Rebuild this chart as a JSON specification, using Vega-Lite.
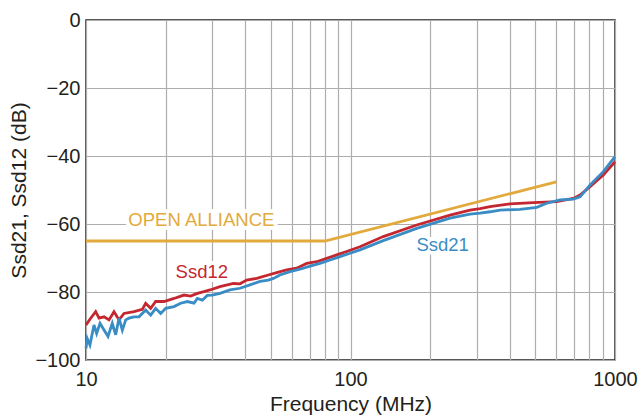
{
  "$schema": "https://vega.github.io/schema/vega-lite/v6.json",
  "width": 529,
  "height": 340,
  "autosize": {"type": "none"},
  "padding": {"left": 86, "top": 20, "right": 27, "bottom": 59},
  "background": "white",
  "config": {
    "view": {"stroke": "#231f20", "strokeWidth": 1.5},
    "font": "Liberation Sans",
    "axis": {
      "domain": false,
      "ticks": false,
      "grid": true,
      "gridColor": "#adadad",
      "gridWidth": 1.2,
      "labelFont": "Liberation Sans",
      "labelFontSize": 20,
      "labelColor": "#231f20",
      "titleFont": "Liberation Sans",
      "titleFontSize": 21,
      "titleFontWeight": "normal",
      "titleColor": "#231f20"
    }
  },
  "datasets": {
    "curves": [
      {"series": "OPEN ALLIANCE", "freq": 10, "db": -65},
      {"series": "OPEN ALLIANCE", "freq": 80, "db": -65},
      {"series": "OPEN ALLIANCE", "freq": 600, "db": -47.6},

      {"series": "Ssd12", "freq": 10, "db": -89.7},
      {"series": "Ssd12", "freq": 10.35, "db": -88.0},
      {"series": "Ssd12", "freq": 10.88, "db": -85.8},
      {"series": "Ssd12", "freq": 11.2, "db": -87.7},
      {"series": "Ssd12", "freq": 11.7, "db": -87.3},
      {"series": "Ssd12", "freq": 12.22, "db": -88.2},
      {"series": "Ssd12", "freq": 12.76, "db": -85.8},
      {"series": "Ssd12", "freq": 13.33, "db": -88.2},
      {"series": "Ssd12", "freq": 13.92, "db": -86.3},
      {"series": "Ssd12", "freq": 15.19, "db": -85.8},
      {"series": "Ssd12", "freq": 16.33, "db": -85.1},
      {"series": "Ssd12", "freq": 16.81, "db": -83.3},
      {"series": "Ssd12", "freq": 17.56, "db": -84.8},
      {"series": "Ssd12", "freq": 18.34, "db": -82.8},
      {"series": "Ssd12", "freq": 19.72, "db": -82.8},
      {"series": "Ssd12", "freq": 21.51, "db": -81.9},
      {"series": "Ssd12", "freq": 23.47, "db": -80.9},
      {"series": "Ssd12", "freq": 24.87, "db": -81.2},
      {"series": "Ssd12", "freq": 26.36, "db": -80.4},
      {"series": "Ssd12", "freq": 27.93, "db": -79.9},
      {"series": "Ssd12", "freq": 29.4, "db": -79.4},
      {"series": "Ssd12", "freq": 32.1, "db": -78.4},
      {"series": "Ssd12", "freq": 36.1, "db": -77.5},
      {"series": "Ssd12", "freq": 38.2, "db": -77.6},
      {"series": "Ssd12", "freq": 40.5, "db": -76.5},
      {"series": "Ssd12", "freq": 44.2, "db": -76.0},
      {"series": "Ssd12", "freq": 48.9, "db": -75.0},
      {"series": "Ssd12", "freq": 52.6, "db": -74.3},
      {"series": "Ssd12", "freq": 57.4, "db": -73.5},
      {"series": "Ssd12", "freq": 62.6, "db": -73.0},
      {"series": "Ssd12", "freq": 68.3, "db": -71.6},
      {"series": "Ssd12", "freq": 74.5, "db": -71.1},
      {"series": "Ssd12", "freq": 81.3, "db": -70.1},
      {"series": "Ssd12", "freq": 88.7, "db": -69.1},
      {"series": "Ssd12", "freq": 96.7, "db": -68.1},
      {"series": "Ssd12", "freq": 108.6, "db": -66.7},
      {"series": "Ssd12", "freq": 133, "db": -63.7},
      {"series": "Ssd12", "freq": 178, "db": -60.3},
      {"series": "Ssd12", "freq": 238, "db": -57.4},
      {"series": "Ssd12", "freq": 283, "db": -55.9},
      {"series": "Ssd12", "freq": 309, "db": -55.5},
      {"series": "Ssd12", "freq": 337, "db": -54.9},
      {"series": "Ssd12", "freq": 401, "db": -54.1},
      {"series": "Ssd12", "freq": 491, "db": -53.7},
      {"series": "Ssd12", "freq": 602, "db": -53.4},
      {"series": "Ssd12", "freq": 695, "db": -52.5},
      {"series": "Ssd12", "freq": 738, "db": -51.5},
      {"series": "Ssd12", "freq": 805, "db": -49.0},
      {"series": "Ssd12", "freq": 903, "db": -45.6},
      {"series": "Ssd12", "freq": 1000, "db": -41.7},

      {"series": "Ssd21", "freq": 10, "db": -96.6},
      {"series": "Ssd21", "freq": 10.11, "db": -93.7},
      {"series": "Ssd21", "freq": 10.35, "db": -95.6},
      {"series": "Ssd21", "freq": 10.72, "db": -89.7},
      {"series": "Ssd21", "freq": 10.97, "db": -92.2},
      {"series": "Ssd21", "freq": 11.3, "db": -89.2},
      {"series": "Ssd21", "freq": 11.7, "db": -91.2},
      {"series": "Ssd21", "freq": 12.11, "db": -93.1},
      {"series": "Ssd21", "freq": 12.57, "db": -89.2},
      {"series": "Ssd21", "freq": 12.95, "db": -92.6},
      {"series": "Ssd21", "freq": 13.33, "db": -87.7},
      {"series": "Ssd21", "freq": 13.72, "db": -91.2},
      {"series": "Ssd21", "freq": 14.13, "db": -88.2},
      {"series": "Ssd21", "freq": 14.54, "db": -87.7},
      {"series": "Ssd21", "freq": 15.19, "db": -87.3},
      {"series": "Ssd21", "freq": 15.86, "db": -87.3},
      {"series": "Ssd21", "freq": 16.81, "db": -85.3},
      {"series": "Ssd21", "freq": 17.56, "db": -86.8},
      {"series": "Ssd21", "freq": 18.34, "db": -84.8},
      {"series": "Ssd21", "freq": 19.16, "db": -86.3},
      {"series": "Ssd21", "freq": 20.01, "db": -84.8},
      {"series": "Ssd21", "freq": 21.51, "db": -84.3},
      {"series": "Ssd21", "freq": 22.8, "db": -83.3},
      {"series": "Ssd21", "freq": 24.16, "db": -82.8},
      {"series": "Ssd21", "freq": 25.6, "db": -83.3},
      {"series": "Ssd21", "freq": 26.36, "db": -81.9},
      {"series": "Ssd21", "freq": 27.53, "db": -82.4},
      {"series": "Ssd21", "freq": 28.75, "db": -81.0},
      {"series": "Ssd21", "freq": 30.03, "db": -80.9},
      {"series": "Ssd21", "freq": 32.1, "db": -80.4},
      {"series": "Ssd21", "freq": 35.0, "db": -79.4},
      {"series": "Ssd21", "freq": 38.2, "db": -78.9},
      {"series": "Ssd21", "freq": 41.7, "db": -77.9},
      {"series": "Ssd21", "freq": 45.5, "db": -76.9},
      {"series": "Ssd21", "freq": 48.9, "db": -76.5},
      {"series": "Ssd21", "freq": 51.1, "db": -76.0},
      {"series": "Ssd21", "freq": 54.1, "db": -75.0},
      {"series": "Ssd21", "freq": 59.1, "db": -74.0},
      {"series": "Ssd21", "freq": 64.4, "db": -73.3},
      {"series": "Ssd21", "freq": 70.3, "db": -72.4},
      {"series": "Ssd21", "freq": 76.7, "db": -71.6},
      {"series": "Ssd21", "freq": 83.7, "db": -70.6},
      {"series": "Ssd21", "freq": 91.3, "db": -69.6},
      {"series": "Ssd21", "freq": 99.6, "db": -68.6},
      {"series": "Ssd21", "freq": 108.6, "db": -67.6},
      {"series": "Ssd21", "freq": 133, "db": -64.9},
      {"series": "Ssd21", "freq": 178, "db": -61.3},
      {"series": "Ssd21", "freq": 238, "db": -58.3},
      {"series": "Ssd21", "freq": 283, "db": -57.1},
      {"series": "Ssd21", "freq": 309, "db": -56.8},
      {"series": "Ssd21", "freq": 337, "db": -56.4},
      {"series": "Ssd21", "freq": 367.5, "db": -55.9},
      {"series": "Ssd21", "freq": 437, "db": -55.7},
      {"series": "Ssd21", "freq": 506, "db": -55.1},
      {"series": "Ssd21", "freq": 552, "db": -53.9},
      {"series": "Ssd21", "freq": 620, "db": -52.9},
      {"series": "Ssd21", "freq": 695, "db": -52.7},
      {"series": "Ssd21", "freq": 738, "db": -52.0},
      {"series": "Ssd21", "freq": 805, "db": -48.5},
      {"series": "Ssd21", "freq": 903, "db": -44.6},
      {"series": "Ssd21", "freq": 1000, "db": -40.2}
    ],
    "labels": [
      {"series": "OPEN ALLIANCE", "freq": 27.3, "db": -58.8},
      {"series": "Ssd12", "freq": 27.4, "db": -74.0},
      {"series": "Ssd21", "freq": 223, "db": -66.2}
    ]
  },
  "layer": [
    {
      "data": {"name": "curves"},
      "mark": {"type": "line", "strokeWidth": 2.8, "interpolate": "linear"},
      "encoding": {
        "x": {
          "field": "freq", "type": "quantitative",
          "scale": {"type": "log", "domain": [10, 1000], "nice": false},
          "axis": {
            "title": "Frequency (MHz)",
            "values": [10, 20, 30, 40, 50, 60, 70, 80, 90, 100, 200, 300, 400, 500, 600, 700, 800, 900, 1000],
            "format": "d",
            "labelExpr": "indexof([10, 100, 1000], datum.value) >= 0 ? datum.label : ''",
            "labelPadding": 9,
            "titlePadding": 4,
            "labelFlush": false,
            "labelOverlap": false
          }
        },
        "y": {
          "field": "db", "type": "quantitative",
          "scale": {"domain": [-100, 0], "nice": false},
          "axis": {
            "title": "Ssd21, Ssd12 (dB)",
            "values": [0, -10, -20, -30, -40, -50, -60, -70, -80, -90, -100],
            "labelExpr": "datum.value % 20 == 0 ? datum.label : ''",
            "labelPadding": 6,
            "titlePadding": 5,
            "labelOverlap": false
          }
        },
        "color": {
          "field": "series", "type": "nominal",
          "scale": {"domain": ["OPEN ALLIANCE", "Ssd12", "Ssd21"], "range": ["#e2aa3c", "#c4272f", "#3a8dc4"]},
          "legend": null
        },
        "order": {"field": "freq", "type": "quantitative"}
      }
    },
    {
      "data": {"name": "labels"},
      "mark": {"type": "text", "fontSize": 18.5, "font": "Liberation Sans", "fill": "white", "stroke": "white", "strokeWidth": 8, "align": "center", "baseline": "middle"},
      "encoding": {
        "x": {"field": "freq", "type": "quantitative"},
        "y": {"field": "db", "type": "quantitative"},
        "text": {"field": "series"}
      }
    },
    {
      "data": {"name": "labels"},
      "mark": {"type": "text", "fontSize": 18.5, "font": "Liberation Sans", "align": "center", "baseline": "middle"},
      "encoding": {
        "x": {"field": "freq", "type": "quantitative"},
        "y": {"field": "db", "type": "quantitative"},
        "text": {"field": "series"},
        "color": {"field": "series", "type": "nominal", "legend": null}
      }
    }
  ]
}
